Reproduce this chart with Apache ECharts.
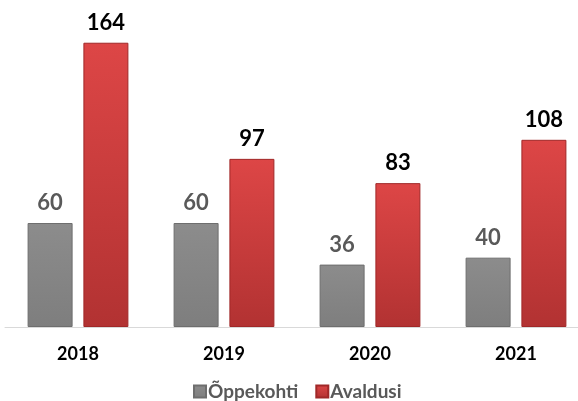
<!DOCTYPE html>
<html>
<head>
<meta charset="utf-8">
<script src="https://cdn.jsdelivr.net/npm/echarts@6/dist/echarts.min.js"></script>
<style>html,body{margin:0;padding:0;background:#fff;overflow:hidden}#c{width:592px;height:401px}</style>
</head>
<body>
<div id="c"></div>
<script>
var categories = ['2018', '2019', '2020', '2021'];
var seriesNames = ['Õppekohti', 'Avaldusi'];
var oppekohti = [60, 60, 36, 40];
var avaldusi = [164, 97, 83, 108];

var chart = echarts.init(document.getElementById('c'), null, {renderer: 'canvas'});
var FONT = 'Lato';
chart.setOption({
  animation: false,
  backgroundColor: '#ffffff',
  grid: {left: 5, width: 584, top: 15, height: 312, containLabel: false},
  legend: {
    data: seriesNames,
    top: 377,
    left: 188,
    itemWidth: 12,
    itemHeight: 12,
    itemGap: 17,
    icon: 'rect',
    textStyle: {fontFamily: FONT, fontWeight: 'bold', fontSize: 19, color: '#595959', padding: [0, 0, 0, -3]}
  },
  xAxis: {
    type: 'category',
    data: categories,
    axisLine: {show: true, lineStyle: {color: '#D9D9D9', width: 1}},
    axisTick: {show: false},
    axisLabel: {margin: 18, fontFamily: FONT, fontWeight: 'bold', fontSize: 18, color: '#000000'}
  },
  yAxis: {
    type: 'value', min: 0, max: 180, show: false,
    splitLine: {show: false}
  },
  series: [
    {
      name: seriesNames[0], type: 'bar', data: oppekohti,
      barWidth: 45, barGap: '24%',
      itemStyle: {
        color: new echarts.graphic.LinearGradient(0, 0, 0, 1, [
          {offset: 0, color: '#8C8C8C'}, {offset: 1, color: '#7E7E7E'}
        ]),
        borderColor: '#6E6E6E', borderWidth: 1
      },
      label: {show: true, position: 'top', distance: 9, fontFamily: FONT, fontWeight: 'bold', fontSize: 22, color: '#595959'}
    },
    {
      name: seriesNames[1], type: 'bar', data: avaldusi,
      barWidth: 45,
      itemStyle: {
        color: new echarts.graphic.LinearGradient(0, 0, 0, 1, [
          {offset: 0, color: '#DD4646'}, {offset: 1, color: '#B23232'}
        ]),
        borderColor: '#A02828', borderWidth: 1
      },
      label: {show: true, position: 'top', distance: 9, fontFamily: FONT, fontWeight: 'bold', fontSize: 22, color: '#000000'}
    }
  ]
});
</script>
</body>
</html>
